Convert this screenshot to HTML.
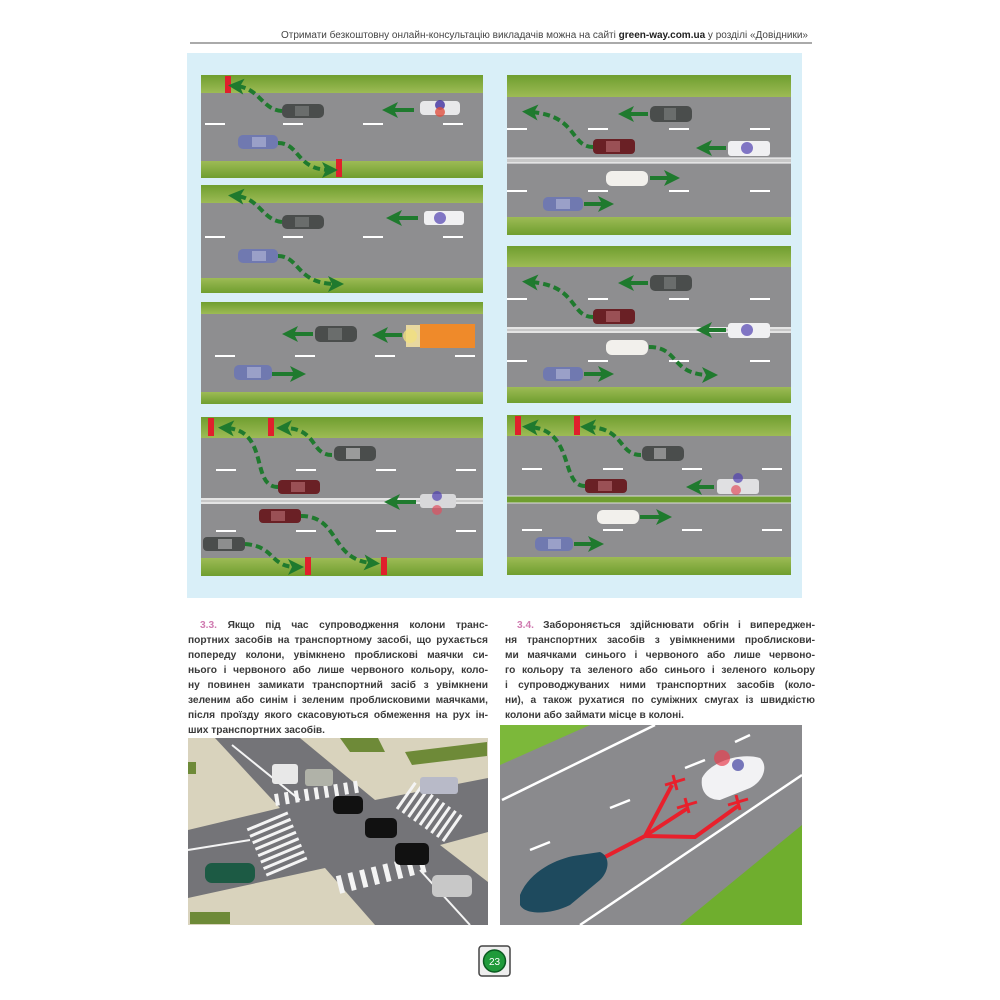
<!DOCTYPE html>
<html><head><meta charset="utf-8"><style>
body{margin:0;background:#fff;width:1000px;height:1000px;position:relative;overflow:hidden;font-family:"Liberation Sans","DejaVu Sans",sans-serif}
.t{position:absolute;font-size:10.2px;font-weight:bold;color:#3a3a3a;line-height:15px}
.t div{text-align:justify;text-align-last:justify;white-space:nowrap;overflow:hidden}
.t div.l{text-align-last:left}
.n{color:#d07ab0}
</style></head><body>
<svg width="1000" height="1000" style="position:absolute;left:0;top:0">
<defs>
<marker id="ag" markerWidth="4" markerHeight="4" refX="2" refY="2" orient="auto" markerUnits="strokeWidth"><path d="M0,0 L4,2 L0,4 L1,2z" fill="#1f7a2e"/></marker>
<linearGradient id="gr" x1="0" y1="0" x2="0" y2="1"><stop offset="0" stop-color="#6f9e2f"/><stop offset="1" stop-color="#9dbb55"/></linearGradient>
<linearGradient id="gr2" x1="0" y1="1" x2="0" y2="0"><stop offset="0" stop-color="#6f9e2f"/><stop offset="1" stop-color="#9dbb55"/></linearGradient>
</defs>
<text x="808" y="38" font-size="10" text-anchor="end" fill="#444" font-family="Liberation Sans,sans-serif">Отримати безкоштовну онлайн-консультацію викладачів можна на сайті <tspan font-weight="bold" fill="#222">green-way.com.ua</tspan> у розділі «Довідники»</text>
<line x1="190" y1="43" x2="812" y2="43" stroke="#555" stroke-width="1"/>
<rect x="187" y="53" width="615" height="545" fill="#d9eff8"/>

<!-- P1 -->
<g>
<rect x="201" y="75" width="282" height="103" fill="#8e8e90"/>
<rect x="201" y="75" width="282" height="18" fill="url(#gr)"/><rect x="201" y="161" width="282" height="17" fill="url(#gr2)"/>
<g stroke="#fff" stroke-width="2"><line x1="205" y1="124" x2="225" y2="124"/><line x1="283" y1="124" x2="303" y2="124"/><line x1="363" y1="124" x2="383" y2="124"/><line x1="443" y1="124" x2="463" y2="124"/></g>
<rect x="282" y="104" width="42" height="14" rx="5" fill="#4a4d4c"/><rect x="295" y="106" width="14" height="10" fill="#6a6d6c"/>
<rect x="420" y="101" width="40" height="14" rx="4" fill="#e8e8ea"/><circle cx="440" cy="105" r="5" fill="#4030a0" opacity=".8"/><circle cx="440" cy="112" r="5" fill="#e05040" opacity=".8"/>
<rect x="238" y="135" width="40" height="14" rx="5" fill="#7079b0"/><rect x="252" y="137" width="14" height="10" fill="#9aa0c8"/>
<rect x="225" y="76" width="6" height="17" fill="#e0202c"/><rect x="336" y="159" width="6" height="18" fill="#e0202c"/>
<g fill="none" stroke="#1f7a2e" stroke-width="4"><path d="M282,111 C262,110 260,88 236,86" stroke-dasharray="7 4" marker-end="url(#ag)"/><line x1="414" y1="110" x2="390" y2="110" marker-end="url(#ag)"/><path d="M278,143 C300,143 296,170 330,170" stroke-dasharray="7 4" marker-end="url(#ag)"/></g>
</g>
<!-- P2 -->
<g>
<rect x="201" y="185" width="282" height="108" fill="#8e8e90"/>
<rect x="201" y="185" width="282" height="18" fill="url(#gr)"/><rect x="201" y="278" width="282" height="15" fill="url(#gr2)"/>
<g stroke="#fff" stroke-width="2"><line x1="205" y1="237" x2="225" y2="237"/><line x1="283" y1="237" x2="303" y2="237"/><line x1="363" y1="237" x2="383" y2="237"/><line x1="443" y1="237" x2="463" y2="237"/></g>
<rect x="282" y="215" width="42" height="14" rx="5" fill="#4a4d4c"/><rect x="295" y="217" width="14" height="10" fill="#6a6d6c"/>
<rect x="424" y="211" width="40" height="14" rx="3" fill="#f0f0f2"/><circle cx="440" cy="218" r="6" fill="#5040b0" opacity=".7"/>
<rect x="238" y="249" width="40" height="14" rx="5" fill="#7079b0"/><rect x="252" y="251" width="14" height="10" fill="#9aa0c8"/>
<g fill="none" stroke="#1f7a2e" stroke-width="4"><path d="M282,222 C262,220 260,198 236,196" stroke-dasharray="7 4" marker-end="url(#ag)"/><line x1="418" y1="218" x2="394" y2="218" marker-end="url(#ag)"/><path d="M278,256 C300,256 296,284 336,284" stroke-dasharray="7 4" marker-end="url(#ag)"/></g>
</g>
<!-- P3 -->
<g>
<rect x="201" y="302" width="282" height="102" fill="#8e8e90"/>
<rect x="201" y="302" width="282" height="12" fill="url(#gr)"/><rect x="201" y="392" width="282" height="12" fill="url(#gr2)"/>
<g stroke="#fff" stroke-width="2"><line x1="215" y1="356" x2="235" y2="356"/><line x1="295" y1="356" x2="315" y2="356"/><line x1="375" y1="356" x2="395" y2="356"/><line x1="455" y1="356" x2="475" y2="356"/></g>
<rect x="315" y="326" width="42" height="16" rx="5" fill="#4a4d4c"/><rect x="328" y="328" width="14" height="12" fill="#6a6d6c"/>
<rect x="420" y="324" width="55" height="24" fill="#ef8a2a"/><rect x="406" y="325" width="14" height="22" fill="#e8d8a0"/><circle cx="410" cy="336" r="7" fill="#f0e080" opacity=".8"/>
<rect x="234" y="365" width="38" height="15" rx="5" fill="#7079b0"/><rect x="247" y="367" width="14" height="11" fill="#9aa0c8"/>
<g fill="none" stroke="#1f7a2e" stroke-width="4"><line x1="313" y1="334" x2="290" y2="334" marker-end="url(#ag)"/><line x1="402" y1="335" x2="380" y2="335" marker-end="url(#ag)"/><line x1="272" y1="374" x2="298" y2="374" marker-end="url(#ag)"/></g>
</g>
<!-- P4 -->
<g>
<rect x="201" y="417" width="282" height="159" fill="#8e8e90"/>
<rect x="201" y="417" width="282" height="21" fill="url(#gr)"/><rect x="201" y="558" width="282" height="18" fill="url(#gr2)"/>
<rect x="201" y="498" width="282" height="6" fill="#c8c8c8"/><line x1="201" y1="499" x2="483" y2="499" stroke="#fff"/><line x1="201" y1="503" x2="483" y2="503" stroke="#fff"/>
<g stroke="#fff" stroke-width="2"><line x1="216" y1="470" x2="236" y2="470"/><line x1="296" y1="470" x2="316" y2="470"/><line x1="376" y1="470" x2="396" y2="470"/><line x1="456" y1="470" x2="476" y2="470"/><line x1="216" y1="531" x2="236" y2="531"/><line x1="296" y1="531" x2="316" y2="531"/><line x1="376" y1="531" x2="396" y2="531"/><line x1="456" y1="531" x2="476" y2="531"/></g>
<rect x="334" y="446" width="42" height="15" rx="5" fill="#4a4d4c"/><rect x="346" y="448" width="14" height="11" fill="#d0d0d0" opacity=".6"/>
<rect x="278" y="480" width="42" height="14" rx="4" fill="#6a2025"/><rect x="291" y="482" width="14" height="10" fill="#9a5055"/>
<rect x="420" y="494" width="36" height="14" rx="3" fill="#d8d8da"/><circle cx="437" cy="496" r="5" fill="#5040b0" opacity=".7"/><circle cx="437" cy="510" r="5" fill="#e05060" opacity=".7"/>
<rect x="259" y="509" width="42" height="14" rx="4" fill="#6a2025"/><rect x="271" y="511" width="14" height="10" fill="#9a5055"/>
<rect x="203" y="537" width="42" height="14" rx="4" fill="#4a4d4c"/><rect x="218" y="539" width="14" height="10" fill="#d0d0d0" opacity=".5"/>
<rect x="208" y="418" width="6" height="18" fill="#e0202c"/><rect x="268" y="418" width="6" height="18" fill="#e0202c"/><rect x="305" y="557" width="6" height="18" fill="#e0202c"/><rect x="381" y="557" width="6" height="18" fill="#e0202c"/>
<g fill="none" stroke="#1f7a2e" stroke-width="4"><path d="M332,455 C310,455 318,428 284,428" stroke-dasharray="7 4" marker-end="url(#ag)"/><path d="M278,487 C250,487 270,430 226,428" stroke-dasharray="7 4" marker-end="url(#ag)"/><line x1="416" y1="502" x2="392" y2="502" marker-end="url(#ag)"/><path d="M301,516 C340,516 330,560 372,563" stroke-dasharray="7 4" marker-end="url(#ag)"/><path d="M245,544 C275,546 270,567 296,567" stroke-dasharray="7 4" marker-end="url(#ag)"/></g>
</g>

<!-- R1 -->
<g>
<rect x="507" y="75" width="284" height="160" fill="#8e8e90"/>
<rect x="507" y="75" width="284" height="22" fill="url(#gr)"/><rect x="507" y="217" width="284" height="18" fill="url(#gr2)"/>
<rect x="507" y="158" width="284" height="5" fill="#c8c8c8"/><line x1="507" y1="158" x2="791" y2="158" stroke="#fff"/><line x1="507" y1="163" x2="791" y2="163" stroke="#fff"/>
<g stroke="#fff" stroke-width="2"><line x1="507" y1="129" x2="527" y2="129"/><line x1="588" y1="129" x2="608" y2="129"/><line x1="669" y1="129" x2="689" y2="129"/><line x1="750" y1="129" x2="770" y2="129"/><line x1="507" y1="191" x2="527" y2="191"/><line x1="588" y1="191" x2="608" y2="191"/><line x1="669" y1="191" x2="689" y2="191"/><line x1="750" y1="191" x2="770" y2="191"/></g>
<rect x="650" y="106" width="42" height="16" rx="5" fill="#4a4d4c"/><rect x="664" y="108" width="12" height="12" fill="#6a6d6c"/>
<rect x="593" y="139" width="42" height="15" rx="4" fill="#6a2025"/><rect x="606" y="141" width="14" height="11" fill="#9a5055"/>
<rect x="728" y="141" width="42" height="15" rx="3" fill="#f0f0f2"/><circle cx="747" cy="148" r="6" fill="#5040b0" opacity=".7"/>
<rect x="606" y="171" width="42" height="15" rx="6" fill="#f2f0ec"/>
<rect x="543" y="197" width="40" height="14" rx="5" fill="#7079b0"/><rect x="556" y="199" width="14" height="10" fill="#9aa0c8"/>
<g fill="none" stroke="#1f7a2e" stroke-width="4"><line x1="648" y1="114" x2="626" y2="114" marker-end="url(#ag)"/><path d="M593,147 C570,147 578,115 530,112" stroke-dasharray="7 4" marker-end="url(#ag)"/><line x1="726" y1="148" x2="704" y2="148" marker-end="url(#ag)"/><line x1="650" y1="178" x2="672" y2="178" marker-end="url(#ag)"/><line x1="584" y1="204" x2="606" y2="204" marker-end="url(#ag)"/></g>
</g>
<!-- R2 -->
<g>
<rect x="507" y="246" width="284" height="157" fill="#8e8e90"/>
<rect x="507" y="246" width="284" height="21" fill="url(#gr)"/><rect x="507" y="387" width="284" height="16" fill="url(#gr2)"/>
<rect x="507" y="327" width="284" height="6" fill="#c8c8c8"/><line x1="507" y1="328" x2="791" y2="328" stroke="#fff"/><line x1="507" y1="332" x2="791" y2="332" stroke="#fff"/>
<g stroke="#fff" stroke-width="2"><line x1="507" y1="299" x2="527" y2="299"/><line x1="588" y1="299" x2="608" y2="299"/><line x1="669" y1="299" x2="689" y2="299"/><line x1="750" y1="299" x2="770" y2="299"/><line x1="507" y1="361" x2="527" y2="361"/><line x1="588" y1="361" x2="608" y2="361"/><line x1="669" y1="361" x2="689" y2="361"/><line x1="750" y1="361" x2="770" y2="361"/></g>
<rect x="650" y="275" width="42" height="16" rx="5" fill="#4a4d4c"/><rect x="664" y="277" width="12" height="12" fill="#6a6d6c"/>
<rect x="593" y="309" width="42" height="15" rx="4" fill="#6a2025"/><rect x="606" y="311" width="14" height="11" fill="#9a5055"/>
<rect x="728" y="323" width="42" height="15" rx="3" fill="#f0f0f2"/><circle cx="747" cy="330" r="6" fill="#5040b0" opacity=".7"/>
<rect x="606" y="340" width="42" height="15" rx="6" fill="#f2f0ec"/>
<rect x="543" y="367" width="40" height="14" rx="5" fill="#7079b0"/><rect x="556" y="369" width="14" height="10" fill="#9aa0c8"/>
<g fill="none" stroke="#1f7a2e" stroke-width="4"><line x1="648" y1="283" x2="626" y2="283" marker-end="url(#ag)"/><path d="M593,317 C570,317 578,285 530,282" stroke-dasharray="7 4" marker-end="url(#ag)"/><line x1="726" y1="330" x2="704" y2="330" marker-end="url(#ag)"/><path d="M649,347 C680,347 670,375 710,375" stroke-dasharray="7 4" marker-end="url(#ag)"/><line x1="584" y1="374" x2="606" y2="374" marker-end="url(#ag)"/></g>
</g>
<!-- R3 -->
<g>
<rect x="507" y="415" width="284" height="160" fill="#8e8e90"/>
<rect x="507" y="415" width="284" height="21" fill="url(#gr)"/><rect x="507" y="557" width="284" height="18" fill="url(#gr2)"/>
<rect x="507" y="496" width="284" height="7" fill="#6f9e2f"/><line x1="507" y1="496" x2="791" y2="496" stroke="#ddd"/><line x1="507" y1="503" x2="791" y2="503" stroke="#ddd"/>
<g stroke="#fff" stroke-width="2"><line x1="522" y1="469" x2="542" y2="469"/><line x1="603" y1="469" x2="623" y2="469"/><line x1="682" y1="469" x2="702" y2="469"/><line x1="762" y1="469" x2="782" y2="469"/><line x1="522" y1="530" x2="542" y2="530"/><line x1="603" y1="530" x2="623" y2="530"/><line x1="682" y1="530" x2="702" y2="530"/><line x1="762" y1="530" x2="782" y2="530"/></g>
<rect x="642" y="446" width="42" height="15" rx="5" fill="#4a4d4c"/><rect x="654" y="448" width="12" height="11" fill="#d0d0d0" opacity=".5"/>
<rect x="585" y="479" width="42" height="14" rx="4" fill="#6a2025"/><rect x="598" y="481" width="14" height="10" fill="#9a5055"/>
<rect x="717" y="479" width="42" height="15" rx="3" fill="#e0e0e2"/><circle cx="738" cy="478" r="5" fill="#5040b0" opacity=".7"/><circle cx="736" cy="490" r="5" fill="#e05060" opacity=".7"/>
<rect x="597" y="510" width="42" height="14" rx="6" fill="#f2f0ec"/>
<rect x="535" y="537" width="38" height="14" rx="5" fill="#7079b0"/><rect x="548" y="539" width="13" height="10" fill="#9aa0c8"/>
<rect x="515" y="416" width="6" height="19" fill="#e0202c"/><rect x="574" y="416" width="6" height="19" fill="#e0202c"/>
<g fill="none" stroke="#1f7a2e" stroke-width="4"><path d="M641,455 C618,455 625,428 588,427" stroke-dasharray="7 4" marker-end="url(#ag)"/><path d="M585,486 C560,486 575,430 530,427" stroke-dasharray="7 4" marker-end="url(#ag)"/><line x1="714" y1="487" x2="694" y2="487" marker-end="url(#ag)"/><line x1="640" y1="517" x2="664" y2="517" marker-end="url(#ag)"/><line x1="574" y1="544" x2="596" y2="544" marker-end="url(#ag)"/></g>
</g>

<!-- bottom left illustration -->
<g>
<rect x="188" y="738" width="300" height="187" fill="#747478"/>
<polygon points="188,738 215,738 280,808 188,830" fill="#d9d3bd"/>
<polygon points="300,738 488,738 488,778 375,800" fill="#d9d3bd"/>
<polygon points="188,898 325,868 375,925 188,925" fill="#d9d3bd"/>
<polygon points="440,845 488,832 488,882" fill="#d9d3bd"/>
<rect x="188" y="762" width="8" height="12" fill="#6e8a38"/>
<polygon points="340,738 378,738 385,752 350,752" fill="#6e8a38"/>
<polygon points="405,752 487,742 487,756 412,765" fill="#6e8a38"/>
<rect x="190" y="912" width="40" height="12" fill="#6e8a38"/>
<g stroke="#f4f4f4" fill="none">
<line x1="275" y1="800" x2="362" y2="786" stroke-width="12" stroke-dasharray="4 6"/>
<line x1="267" y1="820" x2="288" y2="870" stroke-width="44" stroke-dasharray="3 4"/>
<line x1="338" y1="885" x2="430" y2="862" stroke-width="18" stroke-dasharray="5 7"/>
<line x1="405" y1="795" x2="455" y2="830" stroke-width="32" stroke-dasharray="3 4"/>
<line x1="188" y1="850" x2="250" y2="840" stroke-width="2"/>
<line x1="420" y1="870" x2="470" y2="925" stroke-width="2"/>
<line x1="232" y1="745" x2="300" y2="800" stroke-width="2"/>
</g>
<rect x="272" y="764" width="26" height="20" rx="3" fill="#e8e8e8"/><rect x="305" y="769" width="28" height="17" rx="3" fill="#b0b2a8"/>
<rect x="420" y="777" width="38" height="17" rx="3" fill="#b8bac8"/>
<rect x="333" y="796" width="30" height="18" rx="5" fill="#111"/><rect x="365" y="818" width="32" height="20" rx="5" fill="#111"/><rect x="395" y="843" width="34" height="22" rx="5" fill="#111"/>
<rect x="205" y="863" width="50" height="20" rx="7" fill="#1c5a44"/><rect x="432" y="875" width="40" height="22" rx="5" fill="#c8c8c8"/>
</g>

<!-- bottom right illustration -->
<g>
<rect x="500" y="725" width="302" height="200" fill="#8a8a8d"/>
<polygon points="500,725 590,725 500,765" fill="#7cb83a"/>
<polygon points="802,825 802,925 680,925" fill="#6fae2e"/>
<g stroke="#fff" stroke-width="2.5" fill="none"><line x1="502" y1="800" x2="655" y2="725"/><line x1="580" y1="925" x2="802" y2="775"/><line x1="530" y1="850" x2="550" y2="842"/><line x1="610" y1="808" x2="630" y2="800"/><line x1="685" y1="768" x2="705" y2="760"/><line x1="735" y1="742" x2="750" y2="735"/></g>
<g stroke="#e8202c" stroke-width="4" fill="none"><path d="M603,858 L645,836 L672,785"/><path d="M645,836 L688,808"/><path d="M645,836 L695,837 L738,806"/></g>
<g stroke="#e8202c" stroke-width="3"><line x1="665" y1="785" x2="685" y2="779"/><line x1="673" y1="775" x2="677" y2="790"/><line x1="677" y1="808" x2="697" y2="802"/><line x1="685" y1="798" x2="689" y2="813"/><line x1="728" y1="805" x2="748" y2="799"/><line x1="736" y1="795" x2="740" y2="810"/></g>
<path d="M520,895 C530,870 560,857 580,855 L600,852 C610,856 610,870 600,880 L570,905 C550,915 525,915 520,905z" fill="#1e4a5e"/>
<path d="M702,778 C710,762 740,752 760,758 C768,765 765,780 750,788 L720,800 C708,800 700,792 702,778z" fill="#f2f2f4"/>
<circle cx="722" cy="758" r="8" fill="#e84050" opacity=".7"/><circle cx="738" cy="765" r="6" fill="#4040a0" opacity=".7"/>
</g>

<!-- page number -->
<rect x="479" y="946" width="31" height="30" rx="3" fill="#eee" stroke="#444" stroke-width="1.5"/>
<circle cx="494.5" cy="961" r="11" fill="#1f9a3a" stroke="#0a5a20" stroke-width="1.5"/>
<text x="494.5" y="965" font-size="10" text-anchor="middle" fill="#fff" font-family="Liberation Sans,sans-serif">23</text>
</svg>

<div class="t" style="left:188px;top:618px;width:300px">
<div style="padding-left:12px"><span class="n">3.3.</span> Якщо під час супроводження колони транс-</div>
<div>портних засобів на транспортному засобі, що рухається</div>
<div>попереду колони, увімкнено проблискові маячки си-</div>
<div>нього і червоного або лише червоного кольору, коло-</div>
<div>ну повинен замикати транспортний засіб з увімкнени</div>
<div>зеленим або синім і зеленим проблисковими маячками,</div>
<div>після проїзду якого скасовуються обмеження на рух ін-</div>
<div class="l">ших транспортних засобів.</div>
</div>
<div class="t" style="left:505px;top:618px;width:310px">
<div style="padding-left:12px"><span class="n">3.4.</span> Забороняється здійснювати обгін і випереджен-</div>
<div>ня транспортних засобів з увімкненими проблискови-</div>
<div>ми маячками синього і червоного або лише червоно-</div>
<div>го кольору та зеленого або синього і зеленого кольору</div>
<div>і супроводжуваних ними транспортних засобів (коло-</div>
<div>ни), а також рухатися по суміжних смугах із швидкістю</div>
<div class="l">колони або займати місце в колоні.</div>
</div>
</body></html>
